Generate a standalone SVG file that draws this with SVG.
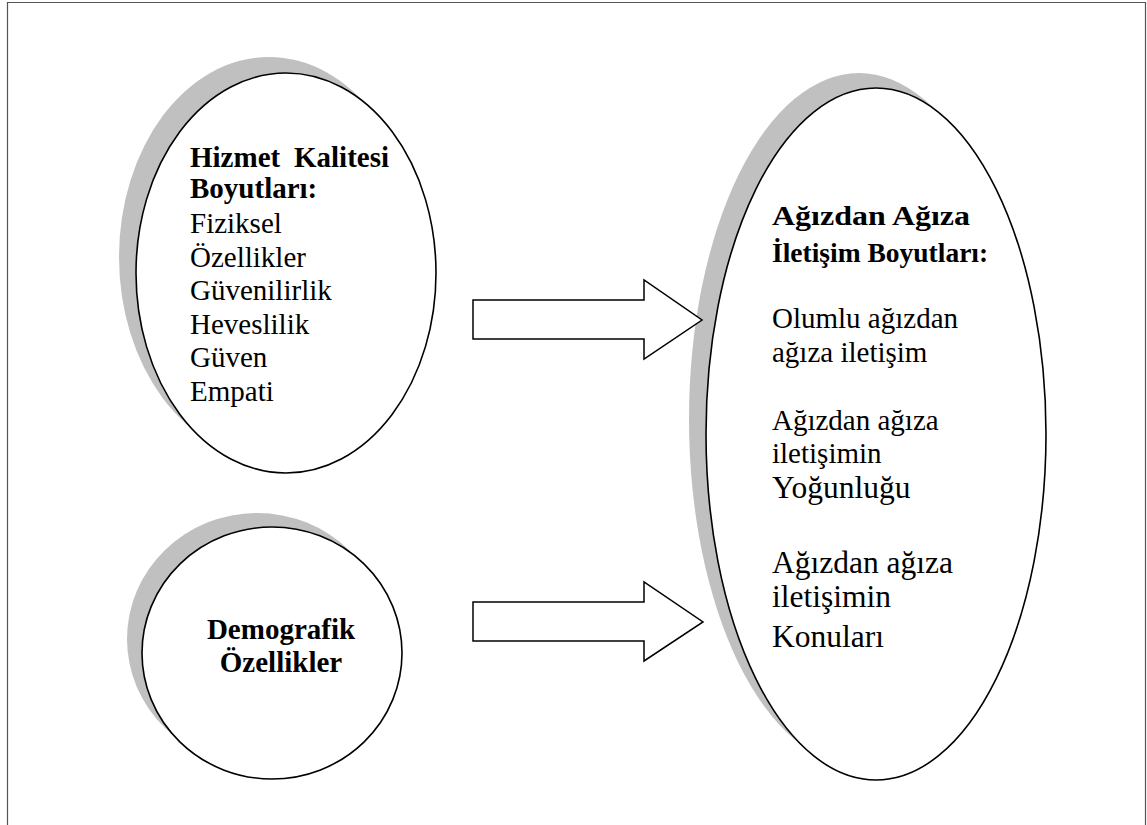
<svg xmlns="http://www.w3.org/2000/svg" width="1147" height="825" viewBox="0 0 1147 825">
  <style>
    .shadow { fill: #c0c0c0; stroke: none; }
    .node { fill: #ffffff; stroke: #000000; stroke-width: 1.6; }
    .arrow { fill: #ffffff; stroke: #000000; stroke-width: 1.5; stroke-linejoin: miter; }
    .t { font-family: "Liberation Serif", "Times New Roman", serif; font-size: 29px; fill: #000000; }
    .b { font-weight: bold; }
    .hd { font-size: 27.5px; }
    .big { font-size: 31.5px; }
  </style>

  <!-- page frame (open at the bottom) -->
  <path d="M7.5,825 V2.5 H1145.5 V825" fill="none" stroke="#555555" stroke-width="1.2"/>

  <!-- service quality dimensions -->
  <g id="node-hizmet">
    <ellipse class="shadow" cx="269" cy="257" rx="150" ry="200"/>
    <ellipse class="node" cx="286" cy="273" rx="150" ry="200"/>
    <text class="t b" x="190" y="167">Hizmet</text>
    <text class="t b" x="294" y="167">Kalitesi</text>
    <text class="t b" x="190" y="198">Boyutları:</text>
    <text class="t" x="190" y="233">Fiziksel</text>
    <text class="t" x="190" y="267">Özellikler</text>
    <text class="t" x="190" y="300">Güvenilirlik</text>
    <text class="t" x="190" y="334">Heveslilik</text>
    <text class="t" x="190" y="367">Güven</text>
    <text class="t" x="190" y="401">Empati</text>
  </g>

  <!-- demographics -->
  <g id="node-demografik">
    <ellipse class="shadow" cx="257" cy="639" rx="130" ry="126"/>
    <ellipse class="node" cx="272" cy="653" rx="130" ry="126"/>
    <text class="t b" x="281" y="639" text-anchor="middle">Demografik</text>
    <text class="t b" x="281" y="672" text-anchor="middle">Özellikler</text>
  </g>

  <!-- word-of-mouth dimensions -->
  <g id="node-agizdan">
    <ellipse class="shadow" cx="859" cy="419" rx="170" ry="346"/>
    <ellipse class="node" cx="876" cy="434" rx="170" ry="346"/>
    <text class="t b hd" x="772" y="225" textLength="198" lengthAdjust="spacingAndGlyphs">Ağızdan Ağıza</text>
    <text class="t b hd" x="772" y="262">İletişim Boyutları:</text>
    <text class="t" x="772" y="328">Olumlu ağızdan</text>
    <text class="t" x="772" y="362">ağıza iletişim</text>
    <text class="t" x="772" y="430">Ağızdan ağıza</text>
    <text class="t" x="772" y="463">iletişimin</text>
    <text class="t big" x="772" y="498">Yoğunluğu</text>
    <text class="t big" x="772" y="573">Ağızdan ağıza</text>
    <text class="t big" x="772" y="607">iletişimin</text>
    <text class="t big" x="772" y="647">Konuları</text>
  </g>

  <!-- block arrows -->
  <g id="connectors">
    <polygon class="arrow" points="473,300 644,300 644,280 702,320 644,359 644,339 473,339"/>
    <polygon class="arrow" points="473,602 644,602 644,582 703,622 644,661 644,641 473,641"/>
  </g>
</svg>
